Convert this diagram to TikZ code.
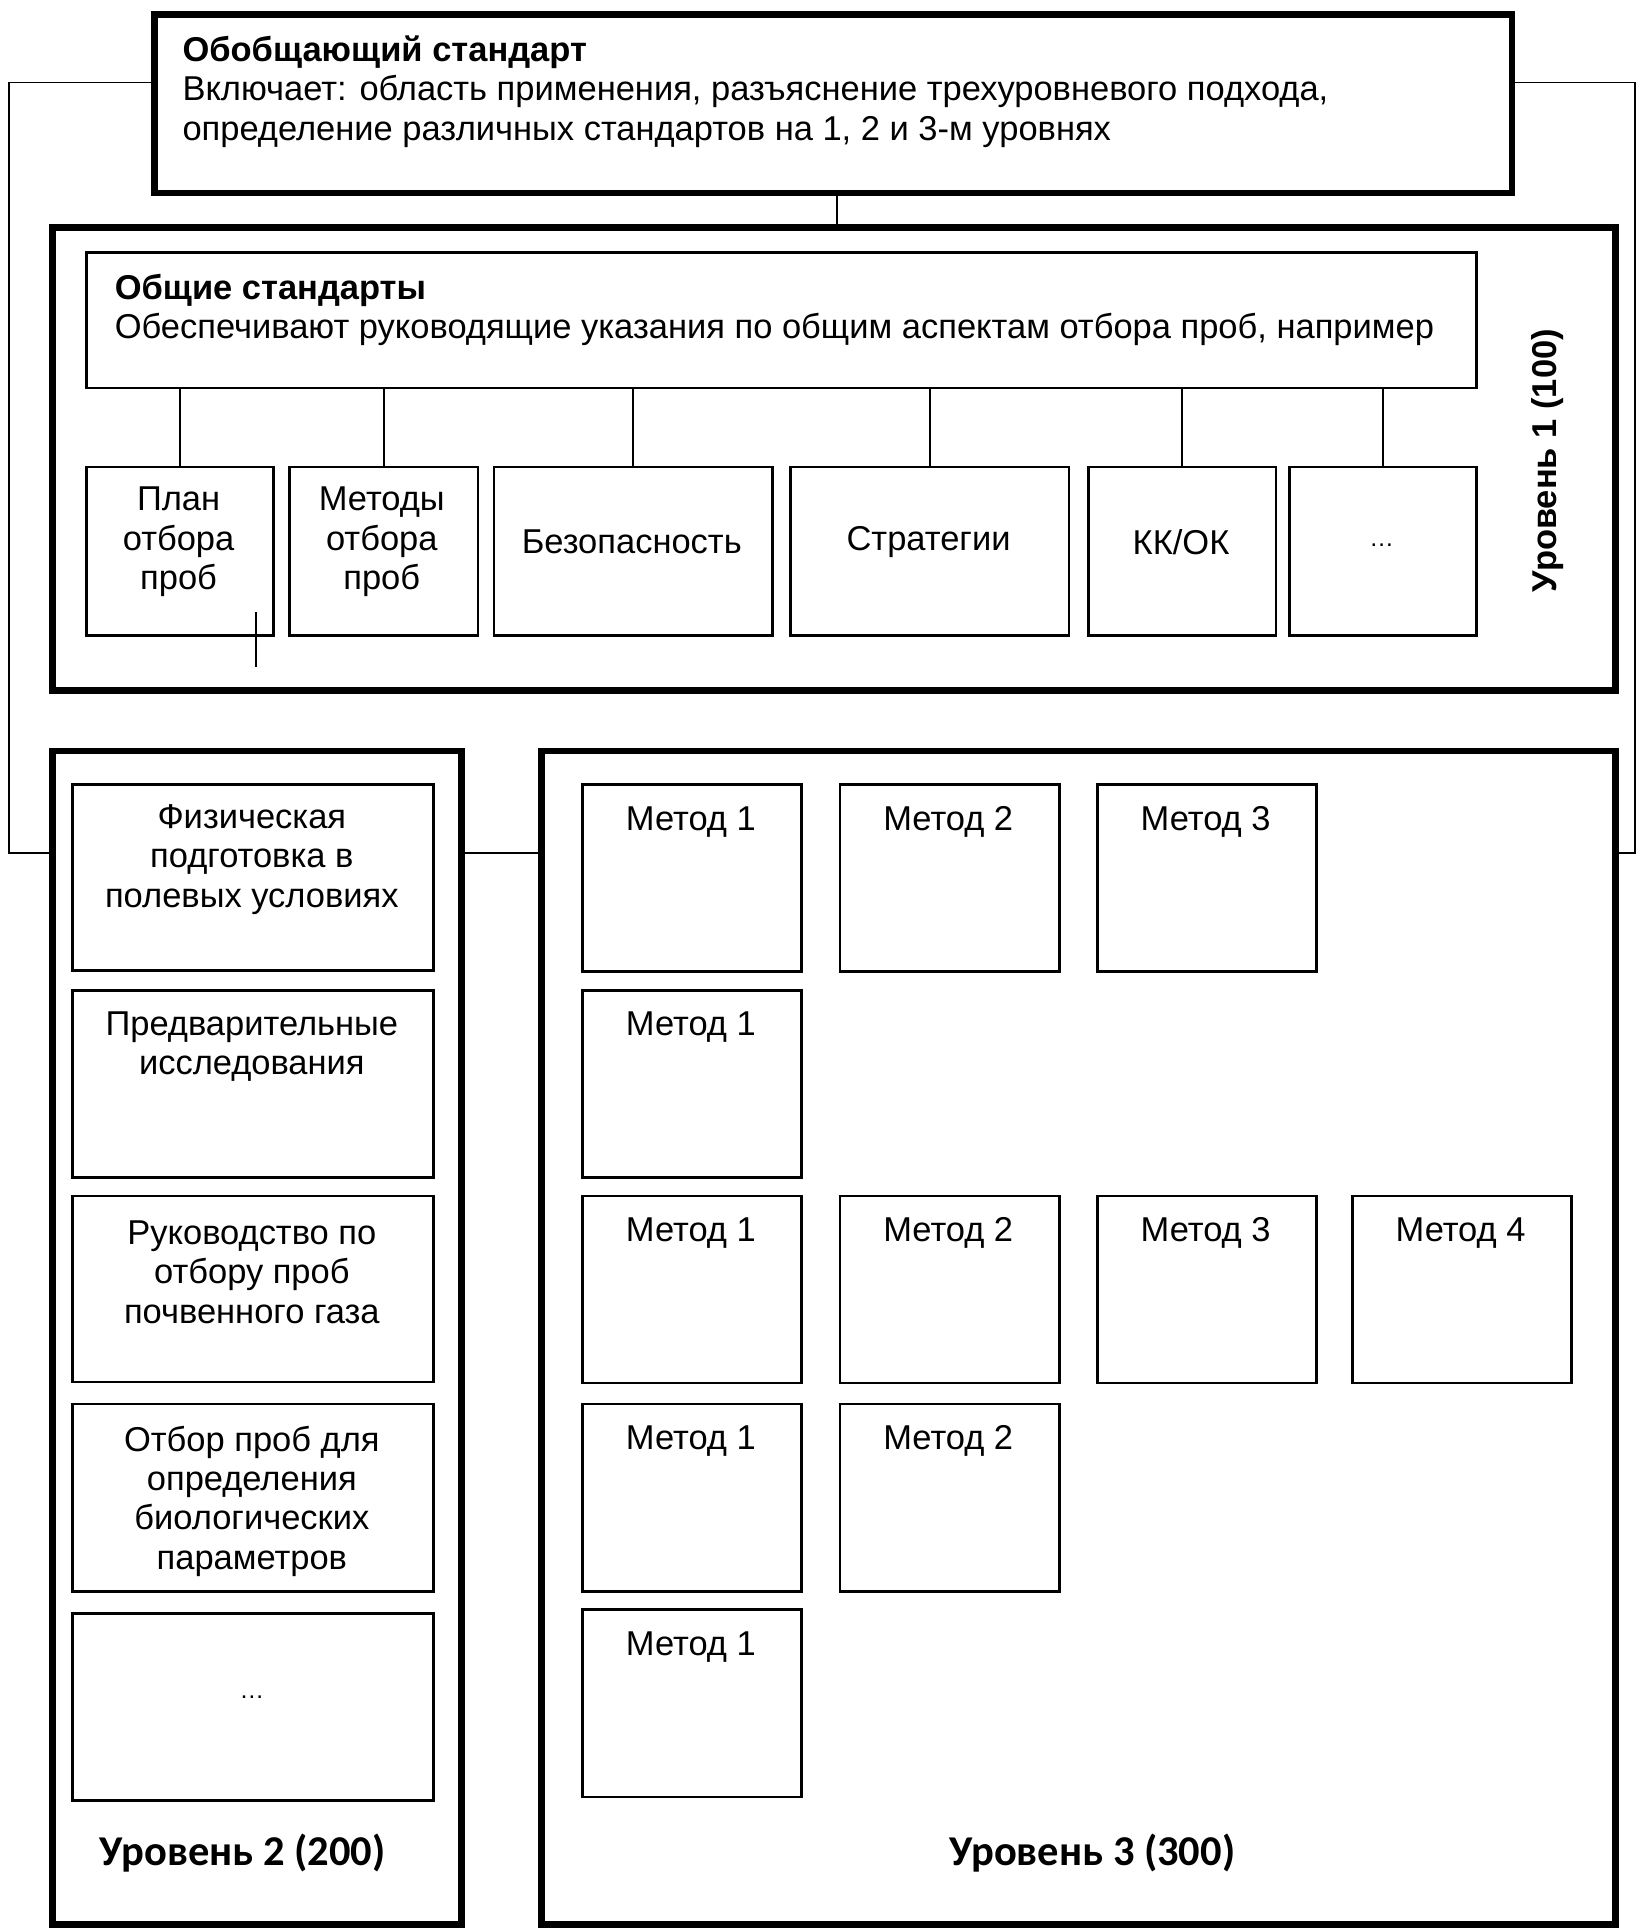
\documentclass[tikz,border=0pt]{standalone}
\usepackage{fontspec}
\setmainfont{Liberation Sans}
\newfontfamily\calfont{Carlito}
\usetikzlibrary{calc}
\newcommand\mybox[6]{\node[#2, anchor=north west, minimum width={(#5-#3)*1pt}, minimum height={(#6-#4)*1pt}] (#1) at (#3,#4) {};}
\begin{document}
\begin{tikzpicture}[x=1pt,y=-1pt,
  thickbox/.style={draw, line width=5.5pt, inner sep=0pt},
  thinbox/.style={draw, line width=2.2pt, inner sep=0pt},
  conn/.style={line width=1.6pt},
  txt/.style={font=\fontsize{28}{32}\selectfont, align=center, inner sep=0pt},
  ltxt/.style={font=\fontsize{28}{32}\selectfont, inner sep=0pt, anchor=base west},
  lvlbig/.style={font=\calfont\bfseries\fontsize{34.5}{40}\selectfont, inner sep=0pt},
]
\useasboundingbox[fill=white] (0,0) rectangle (1333,1568);

% top box
\mybox{top}{thickbox}{123}{9}{1225}{154}
\node[ltxt] (t1) at (148,50) {\bfseries Обобщающий стандарт};
\node[ltxt] (t2) at (148,82) {Включает: область применения, разъяснение трехуровневого подхода,};
\node[ltxt] (t3) at (148,114) {определение различных стандартов на 1, 2 и 3-м уровнях};

% level 1
\mybox{lvl1}{thickbox}{40}{182}{1309}{558}
\mybox{gen}{thinbox}{69}{204}{1198}{314}
\node[ltxt] (g1) at (93,243) {\bfseries Общие стандарты};
\node[ltxt] (g2) at (93,275) {Обеспечивают руководящие указания по общим аспектам отбора проб, например};
\node[font=\bfseries\fontsize{28}{32}\selectfont, inner sep=0pt, rotate=90] (lvl1lab) at (1257,374) {Уровень 1 (100)};

\mybox{b1}{thinbox}{69}{378}{221}{515}
\mybox{b2}{thinbox}{234}{378}{387}{515}
\mybox{b3}{thinbox}{400}{378}{626}{515}
\mybox{b4}{thinbox}{641}{378}{867}{515}
\mybox{b5}{thinbox}{883}{378}{1035}{515}
\mybox{b6}{thinbox}{1046}{378}{1198}{515}
\node[txt] at (145,440) {План\\отбора\\проб};
\node[txt] at (310,440) {Методы\\отбора\\проб};
\node[txt] at (513,440) {Безопасность};
\node[txt] at (754,440) {Стратегии};
\node[txt] at (959,440) {КК/ОК};
\node[txt] at (1122,443) {\fontsize{20}{24}\selectfont …};
\foreach \b in {b1,b2,b3,b4,b5,b6} \draw[conn] (\b.north) -- (\b.north |- gen.south);
\coordinate (tickA) at (208,497);
\coordinate (tickB) at (208,542);
\draw[conn] (tickA) -- (tickB);

% top to level 1
\coordinate (tc) at (680,0);
\draw[conn] (tc |- top.south) -- (tc |- lvl1.north);

% level 2
\mybox{lvl2}{thickbox}{40}{607}{372}{1560}
\mybox{p1}{thinbox}{58}{636}{351}{787}
\mybox{p2}{thinbox}{58}{803}{351}{955}
\mybox{p3}{thinbox}{58}{970}{351}{1121}
\mybox{p4}{thinbox}{58}{1139}{351}{1291}
\mybox{p5}{thinbox}{58}{1309}{351}{1461}
\node[txt] at (204.5,698) {Физическая\\подготовка в\\полевых условиях};
\node[txt] at (204.5,850) {Предварительные\\исследования};
\node[txt] at (204.5,1033) {Руководство по\\отбору проб\\почвенного газа};
\node[txt] at (204.5,1219) {Отбор проб для\\определения\\биологических\\параметров};
\node[txt] at (204.5,1378) {\fontsize{20}{24}\selectfont …};
\node[lvlbig] (lvl2lab) at (197,1505) {Уровень 2 (200)};

% level 3
\mybox{lvl3}{thickbox}{437}{607}{1309}{1560}
\foreach \r/\ty/\n in {1/636/3, 2/803/1, 3/970/4, 4/1139/2, 5/1306/1} {
  \foreach \c/\cx in {1/472, 2/681, 3/890, 4/1097} {
    \ifnum\c>\n\else
      \mybox{m\r\c}{thinbox}{\cx}{\ty}{\cx+178}{\ty+152}
      \node[font=\fontsize{28}{32}\selectfont, inner sep=0pt, anchor=base] at (\cx+89,\ty+38) {Метод \c};
    \fi
  }
}
\node[lvlbig] (lvl3lab) at (887,1505) {Уровень 3 (300)};

% side connectors
\coordinate (l1) at (7,67);
\coordinate (l2) at (7,693);
\coordinate (r1) at (1328,67);
\coordinate (r2) at (1328,693);
\draw[conn] (l1 -| top.west) -- (l1) -- (l2) -- (l2 -| lvl2.west);
\draw[conn] (l2 -| lvl2.east) -- (l2 -| lvl3.west);
\draw[conn] (r1 -| top.east) -- (r1) -- (r2) -- (r2 -| lvl3.east);
\end{tikzpicture}
\end{document}
